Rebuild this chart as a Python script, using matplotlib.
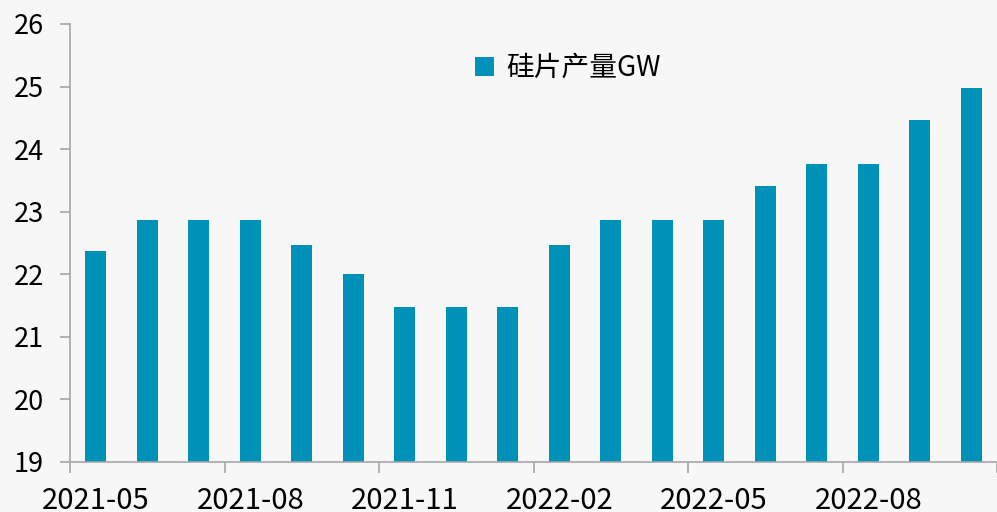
import numpy as np
import matplotlib.pyplot as plt
from matplotlib.ticker import FixedLocator

plt.rcParams['font.family'] = ['Noto Sans CJK SC', 'DejaVu Sans']

# 月份与硅片产量
months = ['2021-05', '2021-06', '2021-07', '2021-08', '2021-09', '2021-10',
          '2021-11', '2021-12', '2022-01', '2022-02', '2022-03', '2022-04',
          '2022-05', '2022-06', '2022-07', '2022-08', '2022-09', '2022-10']
output_gw = [22.37, 22.87, 22.87, 22.87, 22.47, 22.0,
             21.47, 21.47, 21.47, 22.47, 22.87, 22.87,
             22.87, 23.41, 23.77, 23.77, 24.47, 24.98]
label_every = 3

bg = '#f7f7f7'
bar_color = '#0091b8'
axis_color = '#a6a6a6'

fig = plt.figure(figsize=(9.97, 5.12), dpi=100, facecolor=bg)
ax = fig.add_axes([70 / 997, 1 - 462 / 512, 927 / 997, (462 - 24) / 512])
ax.set_facecolor(bg)

x = np.arange(len(months))
ax.bar(x, output_gw, width=0.4, color=bar_color, label='硅片产量GW', zorder=2)

ax.set_ylim(19, 26)
ax.set_xlim(-0.5, len(months) - 0.5)
ax.set_yticks(range(19, 27))
ax.tick_params(axis='y', labelsize=19.5, length=7, width=1.2, color=axis_color, pad=12)

# 刻度线在类别边界，标签在柱子中心
ax.xaxis.set_major_locator(FixedLocator(np.arange(-0.5, len(months), label_every)))
ax.xaxis.set_major_formatter(plt.NullFormatter())
ax.tick_params(axis='x', which='major', length=8, width=1.2, color=axis_color)
ax.set_xticks(x[::label_every], minor=True)
ax.set_xticklabels(months[::label_every], minor=True)
ax.tick_params(axis='x', which='minor', length=0, labelsize=21, pad=17)

for side in ['top', 'right']:
    ax.spines[side].set_visible(False)
for side in ['left', 'bottom']:
    ax.spines[side].set_color(axis_color)
    ax.spines[side].set_linewidth(1.2)

ax.legend(loc='center', bbox_to_anchor=(568 / 997, 1 - 68 / 512),
          bbox_transform=fig.transFigure, frameon=False, fontsize=20,
          handlelength=0.65, handleheight=0.65, handletextpad=0.45)

fig.savefig('out.png', dpi=100, facecolor=bg)
